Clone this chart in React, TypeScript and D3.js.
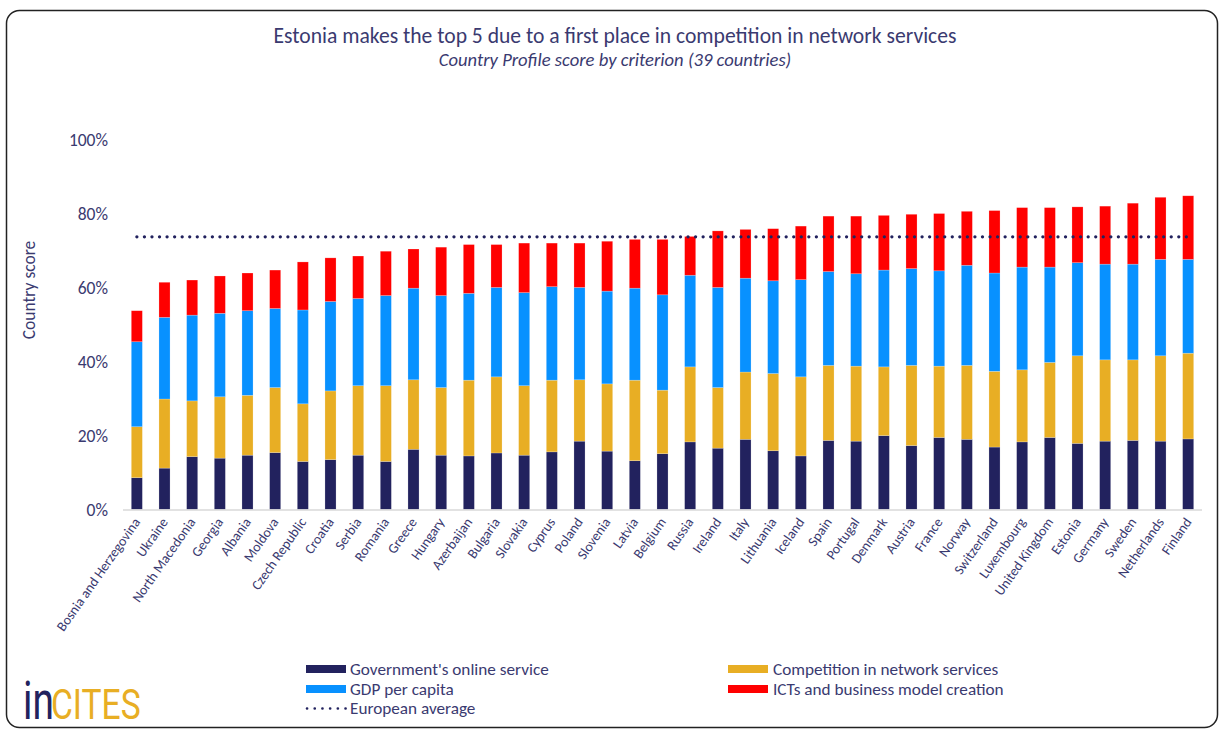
import React from 'react';
import * as d3 from 'd3';

const countries = [
  'Bosnia and Herzegovina', 'Ukraine', 'North Macedonia', 'Georgia', 'Albania', 'Moldova',
  'Czech Republic', 'Croatia', 'Serbia', 'Romania', 'Greece', 'Hungary', 'Azerbaijan',
  'Bulgaria', 'Slovakia', 'Cyprus', 'Poland', 'Slovenia', 'Latvia', 'Belgium', 'Russia',
  'Ireland', 'Italy', 'Lithuania', 'Iceland', 'Spain', 'Portugal', 'Denmark', 'Austria',
  'France', 'Norway', 'Switzerland', 'Luxembourg', 'United Kingdom', 'Estonia', 'Germany',
  'Sweden', 'Netherlands', 'Finland',
];

// scores in % points, one value per country
const government = [
  8.6, 11.2, 14.3, 13.9, 14.7, 15.4, 13.0, 13.5, 14.7, 13.0, 16.3, 14.7, 14.5,
  15.3, 14.7, 15.6, 18.5, 15.8, 13.2, 15.1, 18.3, 16.6, 19.0, 15.9, 14.5, 18.7,
  18.5, 20.0, 17.3, 19.5, 19.0, 16.9, 18.3, 19.5, 17.9, 18.5, 18.7, 18.5, 19.1,
];
const competition = [
  13.8, 18.7, 15.1, 16.6, 16.2, 17.6, 15.6, 18.6, 18.8, 20.5, 18.8, 18.3, 20.5,
  20.6, 18.8, 19.4, 16.6, 18.2, 21.8, 17.2, 20.3, 16.4, 18.2, 20.9, 21.4, 20.3,
  20.3, 18.6, 21.7, 19.3, 20.0, 20.5, 19.5, 20.3, 23.7, 22.0, 21.8, 23.1, 23.2,
];
const gdp = [
  23.0, 22.1, 23.2, 22.6, 22.9, 21.4, 25.4, 24.2, 23.6, 24.4, 24.8, 24.9, 23.5,
  24.2, 25.2, 25.3, 25.0, 25.1, 24.9, 25.8, 24.8, 27.1, 25.4, 25.1, 26.3, 25.4,
  25.0, 26.2, 26.2, 25.8, 27.1, 26.6, 27.8, 25.8, 25.2, 25.9, 25.9, 26.1, 25.4,
];
const icts = [
  8.4, 9.5, 9.5, 10.1, 10.2, 10.4, 13.0, 11.8, 11.5, 12.0, 10.6, 13.1, 13.2,
  11.6, 13.4, 11.8, 12.0, 13.5, 13.2, 15.0, 10.5, 15.3, 13.2, 14.1, 14.5, 15.0,
  15.6, 14.8, 14.7, 15.5, 14.6, 16.9, 16.1, 16.1, 15.1, 15.7, 16.5, 16.8, 17.2,
];
const europeanAverage = 73.8;
const yTicks = [0, 20, 40, 60, 80, 100];

const seriesKeys = ['government', 'competition', 'gdp', 'icts'];
const seriesNames = {
  government: "Government's online service",
  competition: 'Competition in network services',
  gdp: 'GDP per capita',
  icts: 'ICTs and business model creation',
};
const seriesColors = {
  government: '#22225E',
  competition: '#E8AE24',
  gdp: '#0891FF',
  icts: '#FF0000',
};

const textColor = '#3A3A70';
const font = 'Carlito, Lato, sans-serif';
const logoFont = "'Liberation Sans Narrow', 'Roboto', sans-serif";

export default function App() {
  const width = 1225;
  const height = 732;

  const rows = countries.map((c, i) => ({
    country: c,
    government: government[i],
    competition: competition[i],
    gdp: gdp[i],
    icts: icts[i],
  }));

  const stacked = d3.stack().keys(seriesKeys)(rows);

  const x = d3.scaleBand().domain(countries).range([123, 1202]).paddingInner(0.6).paddingOuter(0.3);
  const y = d3.scaleLinear().domain([0, 100]).range([509.5, 140]);
  const fmt = (v) => v + '%';

  const lineX1 = x(countries[0]) + x.bandwidth() / 2;
  const lineX2 = x(countries[countries.length - 1]) + x.bandwidth() / 2;

  return (
    <svg width={width} height={height} style={{ position: 'absolute', left: 0, top: 0, background: '#fff' }}
      fontFamily={font}>
      <rect x={6.5} y={10.5} width={1211} height={717} rx={13} ry={13} fill="#fff" stroke="#222" strokeWidth={1.5} />

      <text x={615} y={43} textAnchor="middle" fontSize={21.6} fill={textColor}>
        Estonia makes the top 5 due to a first place in competition in network services
      </text>
      <text x={615} y={66} textAnchor="middle" fontSize={18.6} fontStyle="italic" fill={textColor}>
        Country Profile score by criterion (39 countries)
      </text>

      {/* y axis labels */}
      {yTicks.map(t => (
        <text key={t} x={108} y={y(t)} dy="0.35em" textAnchor="end" fontSize={17.5} fill={textColor}>{fmt(t)}</text>
      ))}
      <text transform={`translate(35,290) rotate(-90)`} textAnchor="middle" fontSize={17.5} fill={textColor}>
        Country score
      </text>

      {/* bars */}
      {stacked.map(s => (
        <g key={s.key} fill={seriesColors[s.key]}>
          {s.map((d, i) => (
            <rect key={i} x={x(d.data.country)} y={y(d[1])} width={x.bandwidth()} height={y(d[0]) - y(d[1])}
              stroke="#ffffff" strokeOpacity={0.35} strokeWidth={0.6} />
          ))}
        </g>
      ))}

      <line x1={123} x2={1202} y1={y(0) + 0.5} y2={y(0) + 0.5} stroke="#D9D9D9" strokeWidth={1.5} />

      <line x1={lineX1} x2={lineX2} y1={y(europeanAverage)} y2={y(europeanAverage)} stroke="#22225E"
        strokeWidth={3.2} strokeDasharray="0.1 7.45" strokeLinecap="round" />

      {/* x labels */}
      {countries.map(c => (
        <text key={c} transform={`translate(${x(c) + x.bandwidth() / 2 + 4},${522}) rotate(-55)`}
          textAnchor="end" fontSize={13.9} fill={textColor}>{c}</text>
      ))}

      {/* legend */}
      <g fontSize={17.2} fill={textColor}>
        <rect x={306} y={665} width={40} height={8} fill={seriesColors.government} />
        <text x={350} y={669} dy="0.35em">{seriesNames.government}</text>
        <rect x={306} y={685} width={40} height={8} fill={seriesColors.gdp} />
        <text x={350} y={689} dy="0.35em">{seriesNames.gdp}</text>
        <line x1={307} x2={346} y1={708.5} y2={708.5} stroke="#22225E" strokeWidth={2.6}
          strokeDasharray="0.1 7.6" strokeLinecap="round" />
        <text x={350} y={708} dy="0.35em">European average</text>
        <rect x={728} y={665} width={40} height={8} fill={seriesColors.competition} />
        <text x={773} y={669} dy="0.35em">{seriesNames.competition}</text>
        <rect x={728} y={685} width={40} height={8} fill={seriesColors.icts} />
        <text x={773} y={689} dy="0.35em">{seriesNames.icts}</text>
      </g>

      {/* logo */}
      <text transform="translate(23,719) scale(0.72,1)" fontSize={54} fill="#22225E" fontFamily={logoFont}>in</text>
      <text transform="translate(51,719) scale(0.8,1)" fontSize={42} fill="#E8AE24" fontFamily={logoFont}>CITES</text>
    </svg>
  );
}
